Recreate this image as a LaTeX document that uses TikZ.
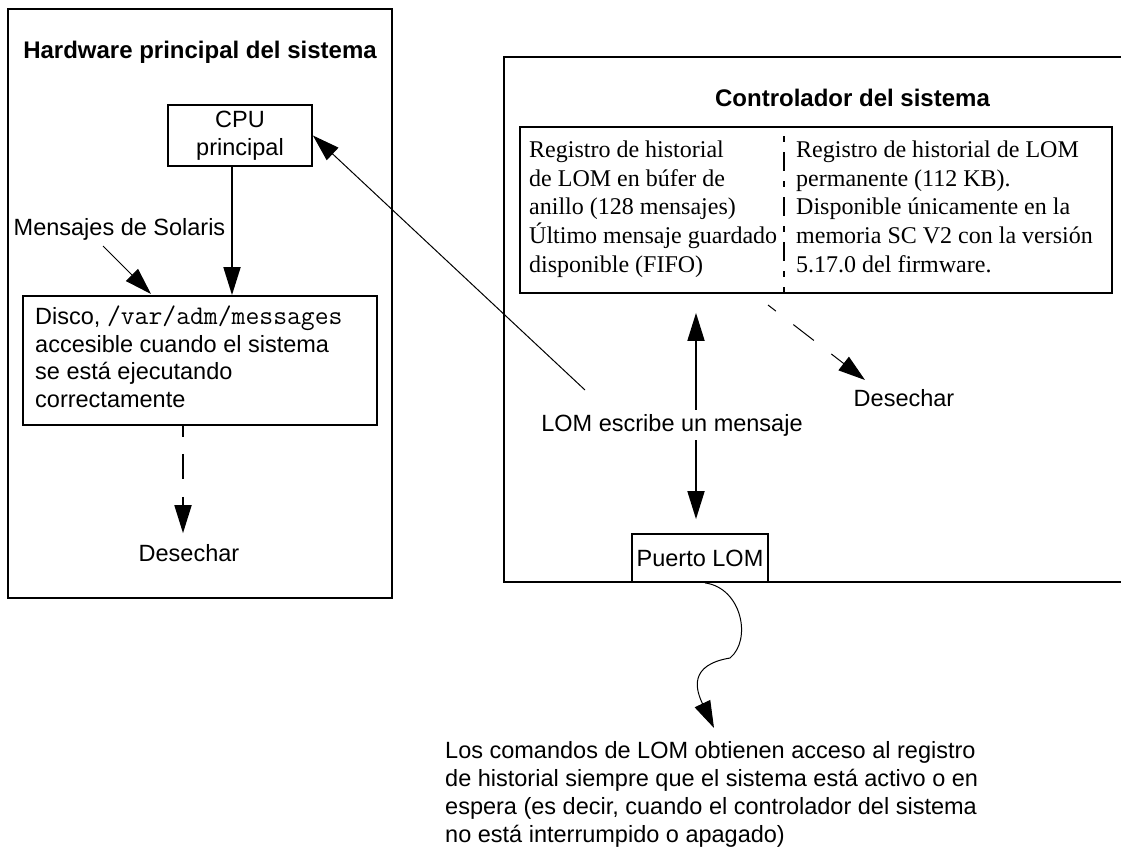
\documentclass[tikz,border=0pt]{standalone}
\usepackage{fontspec}
\setmainfont{Liberation Sans}
\newfontfamily\serifrm{Liberation Serif}
\usetikzlibrary{arrows.meta}
\newcommand{\pathtt}[1]{{\ttfamily\fontsize{26.9}{27.5}\selectfont #1}}
\begin{document}
\begin{tikzpicture}[x=1pt,y=-1pt,
  box/.style={draw, line width=1.8pt, inner sep=0pt},
  sans/.style={font=\fontsize{23.5}{27.5}\selectfont, inner sep=0pt},
  ttl/.style={font=\fontsize{24}{28}\selectfont\bfseries, inner sep=0pt},
  regtxt/.style={font=\fontsize{24}{28.7}\selectfont\serifrm, inner sep=0pt, align=left},
  big/.style={line width=1.8pt, -{Triangle[length=28pt,width=17pt]}},
  slim/.style={line width=1pt, -{Triangle[length=27pt,width=17pt]}},
]
\fill[white] (0,0) rectangle (1121,849);
\useasboundingbox (0,0) rectangle (1121,849);

% ---------- left: main system hardware ----------
\node[box, minimum width=384pt, minimum height=589pt] (hw) at (200,303.5) {};
\node[ttl] (hwt) at (200,52) {Hardware principal del sistema};
\node[box, sans, align=center, minimum width=144pt, minimum height=61pt] (cpu) at (240,135.5) {CPU\\principal};
\node[sans] (sol) at (119.5,229) {Mensajes de Solaris};
\node[box, minimum width=354pt, minimum height=129pt] (disk) at (200,360.5) {};
\node[sans, align=left, anchor=north west] (disktxt) at (35,306)
  {Disco, \pathtt{/var/adm/messages}\\accesible cuando el sistema\\se está ejecutando\\correctamente};
\node[sans] (desL) at (189,553) {Desechar};

\coordinate (msta) at (103,246);
\coordinate (mend) at (151,294);
\draw[slim] (msta) -- (mend);
\draw[big] ([xshift=-8pt]cpu.south) -- ([xshift=-8pt]cpu.south |- disk.north);
\coordinate (dx) at (183,0);
\draw[big, dash pattern=on 11pt off 17pt on 25pt off 18pt on 80pt, shorten >=11pt]
  (dx |- disk.south) -- (dx |- desL.north);

% ---------- right: system controller ----------
\coordinate (sctl) at (504,57);
\coordinate (scbl) at (504,582);
\draw[line width=1.8pt] (1121,57) -- (sctl) -- (scbl) -- (1121,582);
\node[ttl] (sct) at (852.5,97.5) {Controlador del sistema};
\node[box, minimum width=592pt, minimum height=166pt] (reg) at (816,210) {};
\coordinate (divx) at (784,0);
\draw[line width=1.8pt, dash pattern=on 6pt off 10pt on 19pt off 10pt, dash phase=35pt]
  (divx |- reg.north) -- (divx |- reg.south);
\node[regtxt, anchor=north west] (regl) at (529,140.6)
  {Registro de historial\\de LOM en búfer de\\anillo (128 mensajes)\\Último mensaje guardado\\disponible (FIFO)};
\node[regtxt, anchor=north west] (regr) at (796,140.6)
  {Registro de historial de LOM\\permanente (112 KB).\\Disponible únicamente en la\\memoria SC V2 con la versión\\5.17.0 del firmware.};

\node[sans, inner sep=4pt] (lom) at (672,425) {LOM escribe un mensaje};
\node[box, sans, minimum width=136pt, minimum height=48pt] (puerto) at (700,558) {Puerto LOM};
\node[sans] (desR) at (904,398) {Desechar};

\coordinate (ax) at (696,0);
\draw[big, shorten >=19pt] (ax |- lom.north) -- (ax |- reg.south);
\draw[big, shorten >=14pt] (ax |- lom.south) -- (ax |- puerto.north);

\coordinate (lomw) at (585,390);
\draw[slim] (lomw) -- (cpu.east);

\coordinate (dsta) at (768,305);
\coordinate (dend) at (865,380);
\draw[slim, dash pattern=on 10pt off 22pt on 26pt off 22pt on 80pt] (dsta) -- (dend);

% ---------- bottom ----------
\node[sans, align=left, anchor=north west,
  font=\fontsize{23.5}{28}\selectfont] (bot) at (445,741)
  {Los comandos de LOM obtienen acceso al registro\\de historial siempre que el sistema está activo o en\\espera (es decir, cuando el controlador del sistema\\no está interrumpido o apagado)};

\coordinate (ctip) at (714,728);
\draw[slim] ([xshift=5pt]puerto.south) .. controls (742,588) and (752,640) .. (730,658)
  .. controls (688,665) and (696,690) .. (ctip);
\end{tikzpicture}
\end{document}
